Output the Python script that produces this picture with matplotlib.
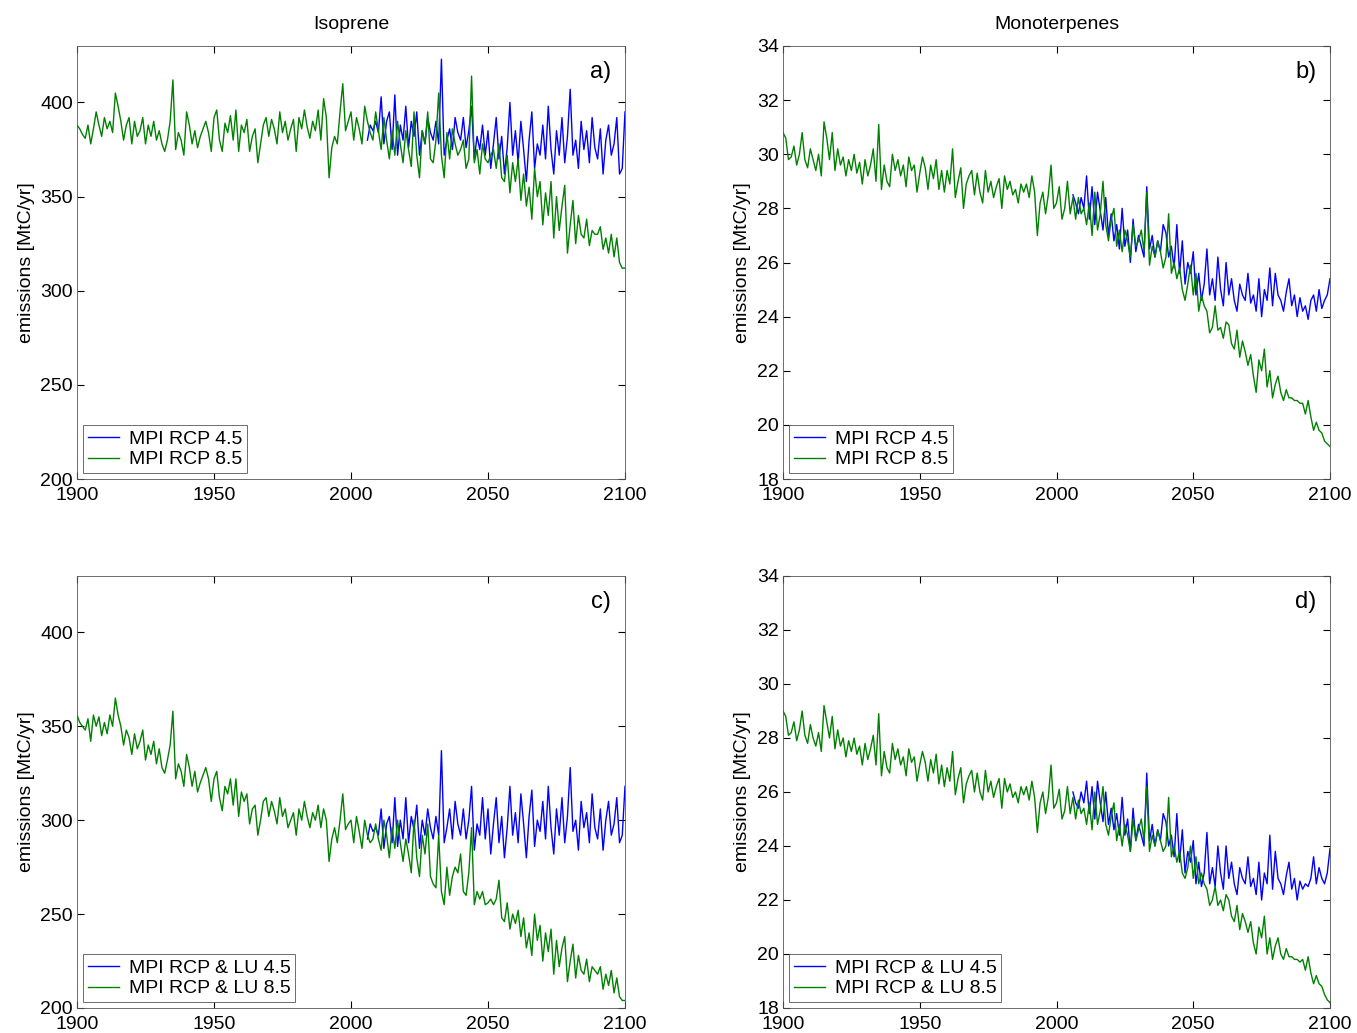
import numpy as np
import matplotlib
matplotlib.use("Agg")
import matplotlib.pyplot as plt

plt.rcParams['font.family'] = ['Liberation Sans', 'DejaVu Sans']

years_green = list(range(1900, 2101))
years_blue = list(range(2006, 2101))

iso_rcp85 = [
388,386,383,381,388,378,386,395,388,382,
392,386,390,384,405,398,390,380,388,392,
378,390,382,385,392,378,388,382,390,380,
385,378,374,380,390,412,375,384,380,372,
395,388,378,385,376,382,386,390,384,374,
392,396,380,374,389,384,393,380,396,374,
388,384,391,374,382,386,368,378,388,392,
382,391,386,378,395,384,390,380,386,391,
374,392,386,396,387,381,390,385,396,380,
402,392,360,376,382,378,395,410,385,390,
395,380,392,386,378,398,390,384,380,395,
385,375,392,380,370,385,372,390,378,368,
385,375,366,395,372,360,385,378,395,370,
368,380,405,372,360,384,370,386,378,372,
375,380,365,370,414,368,375,362,378,370,
368,372,375,365,378,360,358,372,352,368,
358,370,348,362,345,355,338,365,350,358,
335,352,340,358,328,350,332,345,356,320,
335,348,325,340,330,328,338,324,332,330,
330,334,322,328,320,330,318,328,315,312,
312]

iso_rcp45 = [
380,388,385,390,
384,403,378,390,395,375,404,372,388,380,
398,376,390,382,395,372,385,378,392,384,
380,390,378,423,372,380,386,375,392,384,
380,392,376,385,398,370,382,375,388,372,
385,365,378,392,370,382,362,376,400,372,
385,368,390,375,358,380,395,365,378,372,
388,370,398,375,362,385,372,392,368,382,
407,372,380,365,390,375,385,368,392,376,
370,386,362,380,388,372,378,392,362,365,
395]

iso_lu85 = [
356,352,350,348,354,342,356,350,355,345,
352,346,356,350,365,356,350,340,348,344,
335,346,338,342,348,332,340,335,342,330,
338,328,325,332,340,358,322,330,326,318,
335,328,318,326,315,320,324,328,322,310,
322,326,312,305,318,314,322,308,322,302,
315,310,314,298,306,308,292,300,310,312,
302,310,305,298,312,302,306,296,300,304,
292,306,300,310,302,296,304,300,308,296,
306,300,278,290,296,288,300,314,295,298,
300,288,302,294,285,300,292,288,290,298,
290,284,300,292,280,296,285,300,288,278,
290,282,272,300,280,270,292,282,298,270,
266,264,292,262,255,275,260,270,275,272,
282,262,260,272,296,255,262,258,262,255,
256,258,255,258,268,248,246,256,242,250,
245,252,238,248,232,240,228,250,236,244,
225,240,230,242,218,236,222,232,238,214,
225,234,216,228,220,218,226,214,222,220,
218,222,210,218,212,220,208,216,206,204,
204]

iso_lu45 = [
290,298,294,296,
292,306,285,298,302,288,312,286,300,290,
312,288,302,295,308,285,300,292,306,296,
290,302,292,337,288,296,306,290,310,298,
292,306,290,300,318,284,298,292,312,290,
306,282,298,312,288,302,280,296,318,292,
304,288,314,298,280,302,316,286,300,294,
310,290,318,296,282,306,292,312,288,302,
328,294,300,284,310,296,304,288,314,296,
290,306,284,300,310,292,298,312,288,292,
318]

mono_rcp85 = [
30.8,30.6,29.8,29.9,30.3,29.6,30.0,30.8,29.8,29.5,
30.2,29.8,29.4,30.0,29.2,31.2,30.6,29.8,30.8,29.4,
30.2,29.6,29.9,29.2,29.8,29.4,30.0,29.3,29.7,28.9,
29.8,29.2,29.6,30.2,29.0,31.1,28.7,29.6,29.0,28.8,
30.0,29.4,29.8,29.2,29.6,28.8,29.9,29.4,29.6,28.6,
29.3,29.9,29.5,28.7,29.6,29.1,29.8,28.7,29.4,28.6,
29.4,28.9,30.2,28.4,29.0,29.5,28.0,28.9,29.2,29.4,
28.5,29.3,28.6,28.2,29.4,28.6,29.0,28.4,28.8,29.1,
28.0,29.2,28.7,29.0,28.5,28.7,28.2,28.9,28.6,28.9,
28.4,29.2,28.6,27.0,28.2,28.6,27.8,28.5,29.6,28.0,
28.2,28.8,27.6,28.0,29.0,27.8,28.4,27.6,28.4,27.8,
28.0,27.4,28.2,27.0,28.6,27.2,27.8,29.0,27.4,26.8,
27.6,28.0,26.6,27.2,26.4,27.2,26.8,26.2,27.4,26.6,
26.8,27.2,26.4,28.6,25.9,26.6,26.2,26.8,26.4,25.8,
26.2,27.8,25.6,26.0,25.4,25.8,25.0,24.6,25.2,25.9,
24.8,25.6,24.2,24.8,24.4,24.2,23.4,23.6,24.4,23.5,
23.6,23.2,23.8,23.7,23.0,22.8,23.5,22.5,23.1,22.7,
22.2,22.6,21.8,21.2,22.4,22.0,22.8,21.4,22.0,21.0,
21.5,21.8,21.2,20.9,21.3,21.0,21.0,20.9,20.9,20.8,
20.8,20.4,20.9,20.3,19.8,20.1,19.8,19.7,19.4,19.3,
19.2]

mono_rcp45 = [
28.5,28.2,27.8,28.4,
28.0,29.2,27.6,28.8,27.4,28.6,27.9,27.2,28.4,27.0,
27.8,26.8,27.4,26.5,28.0,26.6,27.2,26.0,27.6,26.4,
27.0,26.6,26.2,28.8,26.5,27.0,26.2,26.8,26.4,27.4,
27.1,26.2,26.6,25.8,27.4,25.6,26.8,25.2,26.0,25.6,
26.4,24.8,25.6,24.6,25.2,26.5,24.8,25.4,24.6,26.2,
25.0,24.4,26.0,24.8,25.4,24.6,24.2,25.2,24.8,24.6,
25.6,24.5,24.8,24.2,25.4,24.0,25.0,24.6,25.8,24.4,
25.6,24.8,24.6,24.2,24.9,25.4,24.4,24.8,24.0,24.7,
24.2,24.4,23.9,24.6,24.8,24.2,25.0,24.3,24.6,24.8,
25.4]

mono_lu85 = [
29.0,28.8,28.1,28.2,28.6,27.9,28.3,29.0,28.1,27.8,
28.5,28.0,27.7,28.2,27.5,29.2,28.6,28.0,28.8,27.6,
28.3,27.7,28.0,27.3,27.9,27.5,28.0,27.4,27.7,27.0,
27.8,27.2,27.6,28.1,27.0,28.9,26.6,27.5,26.9,26.7,
27.8,27.2,27.6,27.0,27.3,26.6,27.6,27.1,27.3,26.4,
27.0,27.5,27.1,26.4,27.2,26.7,27.4,26.3,27.0,26.2,
26.9,26.4,27.5,25.9,26.5,26.9,25.6,26.3,26.6,26.8,
26.0,26.7,26.0,25.7,26.8,26.0,26.4,25.8,26.2,26.5,
25.4,26.5,26.0,26.3,25.8,26.0,25.6,26.2,25.9,26.2,
25.7,26.4,25.8,24.5,25.6,26.0,25.2,25.8,27.0,25.4,
25.6,26.1,25.0,25.3,26.2,25.2,25.8,25.0,25.7,25.2,
25.4,24.8,25.6,24.6,26.0,24.8,25.3,26.2,24.8,24.4,
25.1,25.6,24.2,24.8,24.0,24.8,24.4,23.8,25.0,24.2,
24.6,25.0,24.2,26.2,23.8,24.4,24.0,24.6,24.2,23.8,
24.0,25.8,23.6,24.0,23.4,23.8,23.0,22.8,23.2,24.0,
22.8,23.6,22.6,23.0,22.6,22.4,21.8,22.0,22.5,21.8,
22.0,21.6,22.2,22.0,21.4,21.2,21.8,20.9,21.5,21.2,
20.8,21.2,20.4,20.0,21.0,20.6,21.4,20.0,20.6,19.8,
20.3,20.6,20.0,19.8,20.2,19.9,19.9,19.8,19.8,19.7,
19.8,19.4,19.9,19.3,18.9,19.2,18.9,18.8,18.5,18.3,
18.2]

mono_lu45 = [
26.0,25.6,25.4,26.0,
25.6,26.4,25.2,26.2,25.0,26.4,25.6,24.9,26.0,24.8,
25.4,24.6,25.2,24.4,25.8,24.4,25.0,23.8,25.4,24.2,
24.8,24.4,24.0,26.7,24.2,24.8,24.0,24.6,24.2,25.2,
24.9,24.0,24.4,23.6,25.2,23.4,24.6,23.0,23.8,23.4,
24.2,22.6,23.4,22.5,23.0,24.5,22.6,23.2,22.5,24.0,
23.0,22.4,24.0,22.8,23.4,22.6,22.2,23.2,22.8,22.6,
23.6,22.5,22.8,22.2,23.4,22.0,23.0,22.6,24.4,22.4,
23.8,22.8,22.6,22.2,22.9,23.4,22.4,22.8,22.0,22.7,
22.4,22.6,22.5,22.8,23.6,22.6,23.2,22.8,22.6,23.0,
23.9]

BLUE = '#0000ff'
GREEN = '#008000'

fig = plt.figure(figsize=(13.57, 10.33), dpi=100)
W, H = 1357, 1033
def ax_at(l, t, r, b):
    return fig.add_axes([l / W, 1 - b / H, (r - l) / W, (b - t) / H])

panels = [
    (ax_at(77, 46, 625, 479), iso_rcp45, iso_rcp85, (200, 430), [200, 250, 300, 350, 400],
     'a)', 'Isoprene', ['MPI RCP 4.5', 'MPI RCP 8.5']),
    (ax_at(783, 46, 1330, 479), mono_rcp45, mono_rcp85, (18, 34), list(range(18, 35, 2)),
     'b)', 'Monoterpenes', ['MPI RCP 4.5', 'MPI RCP 8.5']),
    (ax_at(77, 576, 625, 1008), iso_lu45, iso_lu85, (200, 430), [200, 250, 300, 350, 400],
     'c)', None, ['MPI RCP & LU 4.5', 'MPI RCP & LU 8.5']),
    (ax_at(783, 576, 1330, 1008), mono_lu45, mono_lu85, (18, 34), list(range(18, 35, 2)),
     'd)', None, ['MPI RCP & LU 4.5', 'MPI RCP & LU 8.5']),
]

for ax, blue, green, ylim, yt, lab, title, leg in panels:
    l1, = ax.plot(years_blue, blue, color=BLUE, lw=1.0)
    l2, = ax.plot(years_green, green, color=GREEN, lw=1.0)
    ax.set_xlim(1900, 2100)
    ax.set_ylim(*ylim)
    ax.set_xticks([1900, 1950, 2000, 2050, 2100])
    ax.set_yticks(yt)
    ax.tick_params(direction='in', top=True, right=True, labelsize=14, length=5, pad=3)
    ax.tick_params(axis='x', pad=6)
    for s in ax.spines.values():
        s.set_linewidth(0.6)
        s.set_color('#555555')
    ax.set_ylabel('emissions [MtC/yr]', fontsize=14)
    ax.text(0.975, 0.965, lab, transform=ax.transAxes, ha='right', va='top', fontsize=17)
    if title:
        ax.set_title(title, fontsize=14, pad=12)
    lg = ax.legend([l1, l2], leg, loc='lower left', fontsize=14, fancybox=False,
                   framealpha=1, edgecolor='#555555', borderaxespad=0.3,
                   handlelength=1.6, handletextpad=0.5, borderpad=0.25, labelspacing=0.15)
    lg.get_frame().set_linewidth(0.6)

fig.savefig('out.png', dpi=100)
